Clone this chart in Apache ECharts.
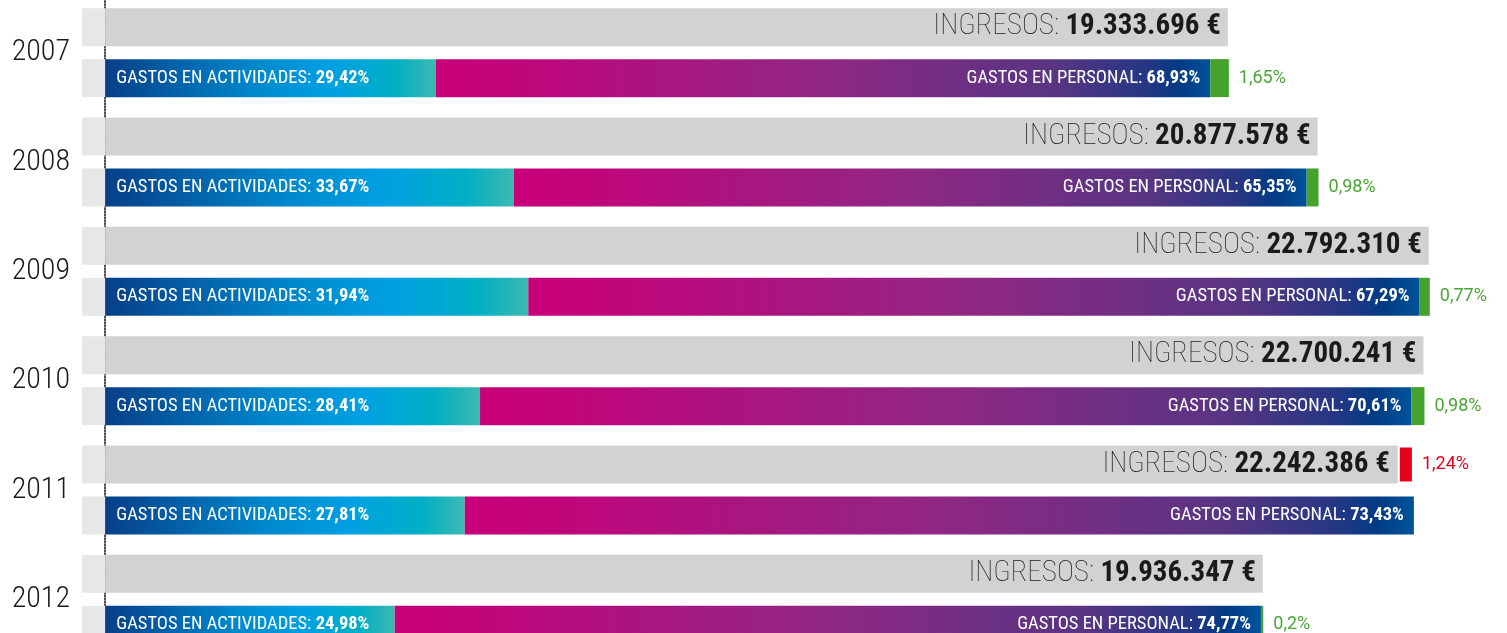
<!DOCTYPE html>
<html>
<head>
<meta charset="utf-8">
<script src="https://cdn.jsdelivr.net/npm/echarts@6/dist/echarts.min.js"></script>
<style>
html,body{margin:0;padding:0;background:#fff;}
#c{width:1507px;height:633px;}
</style>
</head>
<body>
<div id="c"></div>
<script>
// ---- data ----
var years = ['2007', '2008', '2009', '2010', '2011', '2012'];
var ingresos = [19333696, 20877578, 22792310, 22700241, 22242386, 19936347];
var pctActividades = [29.42, 33.67, 31.94, 28.41, 27.81, 24.98];
var pctPersonal = [68.93, 65.35, 67.29, 70.61, 73.43, 74.77];
var pctSuperavit = [1.65, 0.98, 0.77, 0.98, 0, 0.2];
var pctDeficit = [0, 0, 0, 0, 1.24, 0];
var prefixValue = -400000;

var FONT = "'Roboto Condensed', 'Liberation Sans Narrow', 'DejaVu Sans Condensed', Roboto, sans-serif";
var FONT2 = "Roboto, 'DejaVu Sans', sans-serif";

function fmtEuro(v) {
  return String(v).replace(/\B(?=(\d{3})+(?!\d))/g, '.');
}
function fmtPct(p) {
  return String(p).replace('.', ',') + '%';
}

var actVals = ingresos.map(function (v, i) { return v * pctActividades[i] / 100; });
var perVals = ingresos.map(function (v, i) { return v * pctPersonal[i] / 100; });
var supVals = ingresos.map(function (v, i) { return v * pctSuperavit[i] / 100; });
var defVals = ingresos.map(function (v, i) { return v * pctDeficit[i] / 100; });

var gradAct = new echarts.graphic.LinearGradient(0, 0, 1, 0, [
  { offset: 0, color: '#073f88' },
  { offset: 0.45, color: '#0088cd' },
  { offset: 0.68, color: '#00a0e2' },
  { offset: 0.88, color: '#00afc4' },
  { offset: 1, color: '#3db9b2' }
]);
var gradPer = new echarts.graphic.LinearGradient(0, 0, 1, 0, [
  { offset: 0, color: '#c8007a' },
  { offset: 0.08, color: '#c3047b' },
  { offset: 0.5, color: '#902784' },
  { offset: 0.8, color: '#583582' },
  { offset: 0.92, color: '#243784' },
  { offset: 0.96, color: '#033b84' },
  { offset: 1, color: '#00539a' }
]);

var option = {
  animation: false,
  backgroundColor: '#ffffff',
  grid: { left: 82, width: 1418, top: -2, height: 656, containLabel: false, outerBoundsMode: 'none' },
  xAxis: {
    type: 'value',
    min: prefixValue,
    max: 24000000,
    show: false
  },
  yAxis: {
    type: 'category',
    data: years,
    inverse: true,
    axisTick: { show: false },
    axisLine: { show: true, onZero: true, lineStyle: { color: '#111', type: [1.5, 1.5], width: 1.5 } },
    axisLabel: {
      margin: 12,
      color: '#1a1a1a',
      fontFamily: FONT,
      fontWeight: 300,
      fontSize: 30,
      padding: [8, 0, 0, 0]
    }
  },
  series: [
    {
      type: 'bar', stack: 'ing', barWidth: 38, barGap: '34%',
      itemStyle: { color: '#e6e7e8' },
      data: years.map(function () { return prefixValue; })
    },
    {
      type: 'bar', stack: 'ing', barWidth: 38, barGap: '34%',
      itemStyle: { color: '#d1d2d4' },
      data: ingresos,
      label: {
        show: true, position: 'insideRight', distance: 8,
        formatter: function (p) { return '{t|INGRESOS: }{b|' + fmtEuro(p.value) + ' €}'; },
        rich: {
          t: { fontFamily: FONT, fontWeight: 100, fontSize: 29, color: '#1a1a1a' },
          b: { fontFamily: FONT, fontWeight: 'bold', fontSize: 29, color: '#1a1a1a' }
        }
      }
    },
    {
      type: 'bar', stack: 'ing', barWidth: 38, barGap: '34%',
      itemStyle: { color: '#e2001a', borderColor: '#ffffff', borderWidth: 2 },
      data: defVals.map(function (v, i) {
        return { value: v, label: { show: v > 0 } };
      }),
      label: {
        show: true, position: 'right', distance: 8,
        formatter: function (p) { return fmtPct(pctDeficit[p.dataIndex]); },
        fontFamily: FONT2, fontSize: 18, color: '#e2001a'
      }
    },
    {
      type: 'bar', stack: 'gas', barWidth: 38, barGap: '34%',
      itemStyle: { color: '#e6e7e8' },
      data: years.map(function () { return prefixValue; })
    },
    {
      type: 'bar', stack: 'gas', barWidth: 38, barGap: '34%',
      itemStyle: { color: gradAct },
      data: actVals,
      label: {
        show: true, position: 'insideLeft', distance: 11,
        formatter: function (p) { return '{n|GASTOS EN ACTIVIDADES: }{b|' + fmtPct(pctActividades[p.dataIndex]) + '}'; },
        rich: {
          n: { fontFamily: FONT, fontSize: 18.5, color: '#ffffff' },
          b: { fontFamily: FONT, fontWeight: 'bold', fontSize: 18.5, color: '#ffffff' }
        }
      }
    },
    {
      type: 'bar', stack: 'gas', barWidth: 38, barGap: '34%',
      itemStyle: { color: gradPer },
      data: perVals,
      label: {
        show: true, position: 'insideRight', distance: 10,
        formatter: function (p) { return '{n|GASTOS EN PERSONAL: }{b|' + fmtPct(pctPersonal[p.dataIndex]) + '}'; },
        rich: {
          n: { fontFamily: FONT, fontSize: 18.5, color: '#ffffff' },
          b: { fontFamily: FONT, fontWeight: 'bold', fontSize: 18.5, color: '#ffffff' }
        }
      }
    },
    {
      type: 'bar', stack: 'gas', barWidth: 38, barGap: '34%',
      itemStyle: { color: '#45a22d' },
      data: supVals.map(function (v) {
        return { value: v, label: { show: v > 0 } };
      }),
      label: {
        show: true, position: 'right', distance: 10,
        formatter: function (p) { return fmtPct(pctSuperavit[p.dataIndex]); },
        fontFamily: FONT2, fontSize: 18, color: '#4aa536'
      }
    }
  ]
};

var chart = echarts.init(document.getElementById('c'), null, { renderer: 'canvas' });
chart.setOption(option);
</script>
</body>
</html>
